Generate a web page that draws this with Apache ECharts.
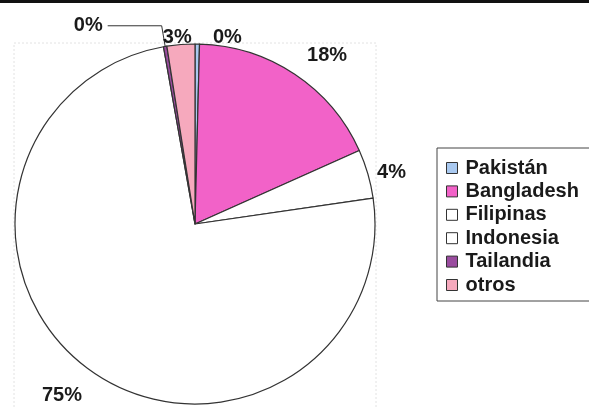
<!DOCTYPE html>
<html>
<head>
<meta charset="utf-8">
<script src="https://cdn.jsdelivr.net/npm/echarts@6/dist/echarts.min.js"></script>
<style>
html,body{margin:0;padding:0;background:#fff;}
#chart{width:589px;height:407px;}
</style>
</head>
<body>
<div id="chart"></div>
<script>
// Data
var categories = ['Pakistán', 'Bangladesh', 'Filipinas', 'Indonesia', 'Tailandia', 'otros'];
var shares = [0.4, 17.9, 4.4, 74.5, 0.3, 2.5];

// Styles
var sliceColors = ['#a9c9f0', '#f262c8', '#ffffff', '#ffffff', '#9a4c9f', '#f6a9bd'];
var labelLineLen = [7, 23, 3, 31, 21, 7];
var labelLineLen2 = [10.6, -5.5, 1.3, -15.4, 54, -16.4];
var showLeader = [false, false, false, false, true, false];

var font = '"Liberation Sans", Arial, sans-serif';

var pieData = categories.map(function (name, i) {
  return {
    name: name,
    value: shares[i],
    itemStyle: { color: sliceColors[i] },
    labelLine: {
      show: showLeader[i],
      length: labelLineLen[i],
      length2: labelLineLen2[i],
      lineStyle: { color: '#333', width: 1 }
    }
  };
});

var chart = echarts.init(document.getElementById('chart'), null, { renderer: 'canvas' });
chart.setOption({
  backgroundColor: '#ffffff',
  animation: false,
  graphic: [
    { type: 'rect', shape: { x: 0, y: 0, width: 589, height: 3 }, style: { fill: '#111' } },
    { type: 'rect', z: -1, shape: { x: 14, y: 43, width: 362, height: 400 },
      style: { fill: 'none', stroke: '#e2e2e2', lineWidth: 1, lineDash: [2, 2] } }
  ],
  legend: {
    orient: 'vertical',
    left: 437,
    top: 148,
    padding: [10, 12, 6, 9],
    borderColor: '#444',
    borderWidth: 1,
    itemWidth: 11,
    itemHeight: 11,
    itemGap: 3.4,
    icon: 'rect',
    itemStyle: { borderColor: '#333', borderWidth: 1 },
    textStyle: { fontFamily: font, fontWeight: 'bold', fontSize: 20, lineHeight: 20, color: '#1a1a1a', padding: [0, 0, 0, 3] },
    data: categories
  },
  series: [{
    type: 'pie',
    center: [195, 224],
    radius: 180,
    startAngle: 90,
    clockwise: true,
    avoidLabelOverlap: false,
    percentPrecision: 0,
    itemStyle: { borderColor: '#333', borderWidth: 1.2 },
    label: {
      show: true,
      position: 'outside',
      formatter: '{d}%',
      fontFamily: font,
      fontWeight: 'bold',
      fontSize: 20,
      color: '#1a1a1a'
    },
    emphasis: { disabled: true },
    data: pieData
  }]
});
</script>
</body>
</html>
